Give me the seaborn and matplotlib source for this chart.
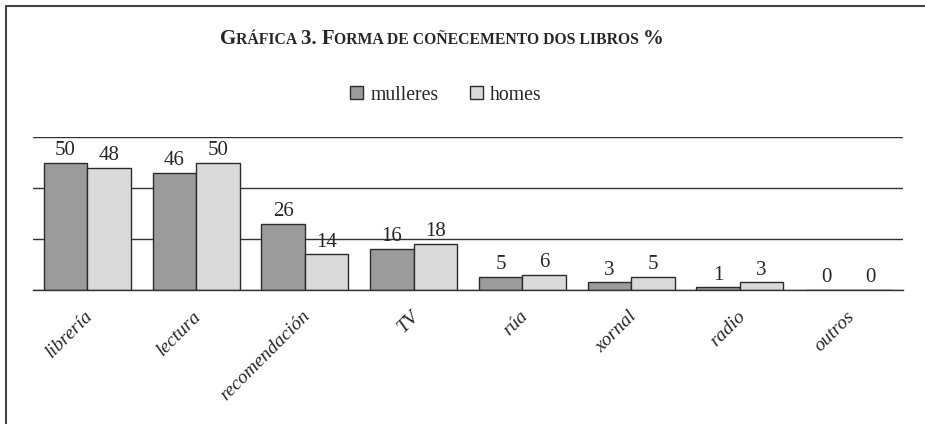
import pandas as pd
import seaborn as sns
import matplotlib.pyplot as plt
from matplotlib.lines import Line2D
from matplotlib.transforms import ScaledTranslation

# data
categorias = ['librería', 'lectura', 'recomendación', 'TV', 'rúa', 'xornal', 'radio', 'outros']
mulleres = [50, 46, 26, 16, 5, 3, 1, 0]
homes = [48, 50, 14, 18, 6, 5, 3, 0]
series = ['mulleres', 'homes']
cores = ['#9b9b9b', '#dadada']
titulo = 'Gráfica 3. Forma de coñecemento dos libros %'

df = pd.DataFrame({
    'categoria': categorias * 2,
    'serie': [series[0]] * len(mulleres) + [series[1]] * len(homes),
    'valor': mulleres + homes,
})

sns.set_style('white')
plt.rcParams['font.family'] = ['Liberation Serif', 'DejaVu Serif']

W, H = 925, 424
fig = plt.figure(figsize=(W / 100, H / 100), dpi=100)
ax = fig.add_axes([33 / W, 134 / H, 870 / W, 153 / H])

sns.barplot(data=df, x='categoria', y='valor', hue='serie', hue_order=series,
            palette=cores, edgecolor='#2b2b2b', linewidth=1, width=0.8, gap=0,
            ax=ax, legend=False)

ax.set_xlim(-0.5, len(categorias) - 0.5)
ax.set_ylim(0, 60)
ax.set_yticks([0, 20, 40, 60])
ax.yaxis.grid(True, color='#333333', lw=1)
ax.set_axisbelow(True)
ax.tick_params(axis='y', left=False, labelleft=False)
for s in ['top', 'left', 'right']:
    ax.spines[s].set_visible(False)
ax.spines['bottom'].set_color('#333333')
ax.spines['bottom'].set_linewidth(1)
ax.set_xlabel('')
ax.set_ylabel('')

# value labels
for cont in ax.containers:
    ax.bar_label(cont, fmt='%g', padding=2, fontsize=15)

# rotated category labels
ax.set_xticks(range(len(categorias)))
ax.set_xticklabels(categorias, rotation=45, ha='right', va='center',
                   rotation_mode='anchor', fontsize=14, style='italic')
ax.tick_params(axis='x', length=0, pad=17)
shift = ScaledTranslation(3 / 100, 0, fig.dpi_scale_trans)
for lab in ax.get_xticklabels():
    lab.set_transform(lab.get_transform() + shift)

# legend
fig.legend(ax.containers, series, loc='center',
           bbox_to_anchor=(446 / W, 1 - 95 / H), ncol=2, frameon=False,
           fontsize=14.2, handlelength=0.68, handleheight=0.68,
           handletextpad=0.35, columnspacing=1.6)


# title in small caps, built from pieces
def small_caps(text, xc, y, big, small):
    pieces = []
    for ch in text:
        size = small if ch.islower() else big
        if ch == ' ' and pieces:
            size = pieces[-1][1]
        if pieces and pieces[-1][1] == size:
            pieces[-1][0] += ch.upper()
        else:
            pieces.append([ch.upper(), size])
    r = fig.canvas.get_renderer()
    arts = []
    for s, size in pieces:
        t = fig.text(0, y, s, fontsize=size, fontweight='bold', va='baseline')
        arts.append(t)
    widths = [t.get_window_extent(r).width for t in arts]
    x = xc * W - sum(widths) / 2
    for t, w in zip(arts, widths):
        t.set_x(x / W)
        x += w


small_caps(titulo, 442 / W, 1 - 44 / H, 15, 11.3)

# frame lines (top and left)
fig.add_artist(Line2D([6 / W, 6 / W], [0, 1 - 6 / H], transform=fig.transFigure,
                      color='#444444', lw=1.5))
fig.add_artist(Line2D([6 / W, 1], [1 - 6 / H, 1 - 6 / H], transform=fig.transFigure,
                      color='#444444', lw=1.5))

fig.savefig('out.png', dpi=100)
plt.close()
